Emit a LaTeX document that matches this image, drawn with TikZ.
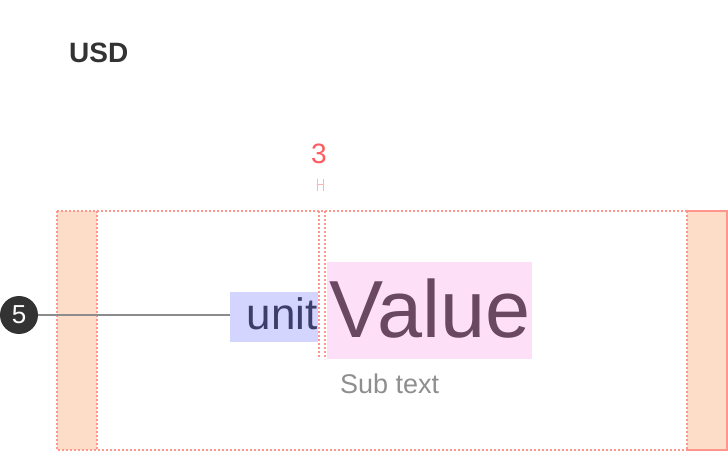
\documentclass[tikz,border=0pt]{standalone}
\usepackage{fontspec}
\setmainfont{Liberation Sans}
\usepackage{tikz}
\usepackage{xcolor}
\usetikzlibrary{arrows.meta,positioning,calc}
\definecolor{ink}{HTML}{333333}
\definecolor{guidered}{HTML}{FF968E}
\definecolor{markred}{HTML}{FF5A5F}
\definecolor{marklight}{HTML}{FFB3B3}
\definecolor{peach}{HTML}{FDDCC8}
\definecolor{unitbg}{HTML}{D3D5FF}
\definecolor{unitink}{HTML}{3E3D6A}
\definecolor{valuebg}{HTML}{FDE0F8}
\definecolor{valueink}{HTML}{6A4862}
\definecolor{subgray}{HTML}{8E8E8E}
\definecolor{leadgray}{HTML}{8C8C8C}
\tikzset{
  guide/.style={draw=guidered,line width=1.2pt,dash pattern=on 2pt off 2pt},
  padbar/.style={guide,fill=peach},
  unitbox/.style={fill=unitbg,text=unitink,minimum width=88pt,minimum height=50pt,
                  text width=87pt,align=right,inner xsep=0.5pt,inner ysep=0pt,
                  text height=26pt,text depth=0pt,font=\fontsize{44}{50}\selectfont},
  valuebox/.style={fill=valuebg,text=valueink,minimum width=205pt,minimum height=97pt,
                   text width=200pt,align=left,inner xsep=2.5pt,inner ysep=0pt,
                   text height=53pt,text depth=0pt,font=\fontsize{81}{90}\selectfont},
  badge/.style={circle,fill=ink,text=white,minimum size=38pt,inner sep=0pt,
                font=\fontsize{26}{30}\selectfont},
  leader/.style={draw=leadgray,line width=1.5pt}
}

\begin{document}
\begin{tikzpicture}[x=1pt,y=-1pt]
      \useasboundingbox (0,0) rectangle (728,454);
      % side paddings and content frame
      \draw[padbar] (57,211) rectangle (97,450);
      \draw[padbar] (687,211) rectangle (727,450);
      \draw[guide] (57,211) rectangle (727,450);
      % title
      \node[anchor=base west,inner sep=0pt,text=ink,font=\fontsize{28}{32}\selectfont\bfseries]
        (title) at (69,63) {USD};
      % spacing marker
      \node[anchor=base,inner sep=0pt,text=markred,font=\fontsize{28}{32}\selectfont]
        (gap) at (319,164) {3};
      \draw[marklight,line width=1pt] (317,179)--(317,191) (323,179)--(323,191)
        (317,185)--(323,185);
      % unit and value
      \node[unitbox] (unit) at (274,317) {unit};
      \node[valuebox] (value) at (429.5,310.5) {Value};
      \node[anchor=base west,inner sep=0pt,text=subgray,font=\fontsize{27}{32}\selectfont]
        (sub) at (340,393) {Sub text};
      \draw[guide] (319,211)--(319,359);
      \draw[guide] (325,211)--(325,359);
      % callout
      \node[badge] (five) at (19,315) {5};
      \draw[leader] (five.east)--(five.east -| unit.west);
\end{tikzpicture}
\end{document}
